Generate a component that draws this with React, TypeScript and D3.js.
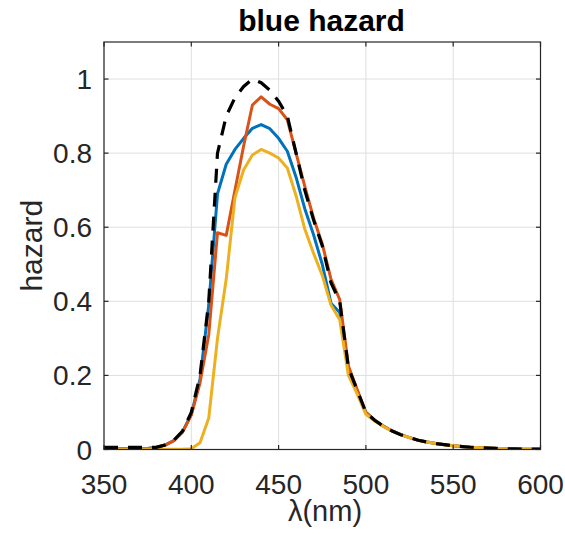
import React from "react";
import * as d3 from "d3";

const wavelengths: number[] = d3.range(350, 601, 5);

// Blue light hazard reference B(λ) (black dashed)
const reference: number[] = [
  0.006, 0.006, 0.006, 0.006, 0.006, 0.006, // 350-375
  0.006, 0.012, 0.025, 0.05, 0.1, 0.2, 0.4, 0.8, 0.9, 0.95, // 380-425
  0.98, 1.0, 0.99, 0.97, 0.94, 0.9, 0.8, 0.7, 0.62, 0.55, // 430-475
  0.45, 0.4, 0.22, 0.16, 0.1, 0.079, 0.063, 0.05, 0.04, 0.032, // 480-525
  0.025, 0.02, 0.016, 0.013, 0.01, 0.008, 0.006, 0.005, 0.004, 0.003, // 530-575
  0.002, 0.002, 0.001, 0.001, 0.001, // 580-600
];

const seriesBlue: number[] = [
  0.002, 0.002, 0.002, 0.002, 0.002, 0.003,
  0.006, 0.012, 0.024, 0.048, 0.095, 0.19, 0.39, 0.69, 0.77, 0.81,
  0.84, 0.867, 0.877, 0.866, 0.84, 0.805, 0.735, 0.65, 0.58, 0.5,
  0.395, 0.37, 0.22, 0.16, 0.1, 0.079, 0.063, 0.05, 0.04, 0.032,
  0.025, 0.02, 0.016, 0.013, 0.01, 0.008, 0.006, 0.005, 0.004, 0.003,
  0.002, 0.002, 0.001, 0.001, 0.001,
];

const seriesOrange: number[] = [
  0.002, 0.002, 0.002, 0.002, 0.002, 0.003,
  0.006, 0.012, 0.024, 0.047, 0.093, 0.18, 0.31, 0.585, 0.578, 0.7,
  0.82, 0.93, 0.952, 0.932, 0.92, 0.89, 0.8, 0.71, 0.625, 0.555,
  0.46, 0.405, 0.225, 0.162, 0.1, 0.079, 0.063, 0.05, 0.04, 0.032,
  0.025, 0.02, 0.016, 0.013, 0.01, 0.008, 0.006, 0.005, 0.004, 0.003,
  0.002, 0.002, 0.001, 0.001, 0.001,
];

const seriesYellow: number[] = [
  0.0005, 0.0005, 0.0005, 0.0005, 0.0005, 0.0005,
  0.0005, 0.0005, 0.0007, 0.001, 0.002, 0.018, 0.085, 0.3, 0.46, 0.68,
  0.755, 0.795, 0.81, 0.8, 0.787, 0.76, 0.685, 0.595, 0.53, 0.47,
  0.39, 0.35, 0.2, 0.15, 0.095, 0.077, 0.062, 0.05, 0.04, 0.032,
  0.025, 0.02, 0.016, 0.013, 0.01, 0.008, 0.006, 0.005, 0.004, 0.003,
  0.002, 0.002, 0.001, 0.001, 0.001,
];

const xTicks: number[] = [350, 400, 450, 500, 550, 600];
const yTicks: number[] = [0, 0.2, 0.4, 0.6, 0.8, 1];
const yTickLabels: string[] = ["0", "0.2", "0.4", "0.6", "0.8", "1"];

const titleText = "blue hazard";
const yLabelText = "hazard";
const xLabelText = "λ(nm)";

const W = 565;
const H = 540;
const left = 104;
const right = 540.5;
const top = 42;
const bottom = 449.5;

const FONT = "'Liberation Sans', Arial, Helvetica, sans-serif";
const AX = "#262626";

export default function App() {
  const x = d3.scaleLinear().domain([350, 600]).range([left, right]);
  const y = d3.scaleLinear().domain([0, 1.1]).range([bottom, top]);
  const line = (vals: number[]) =>
    d3
      .line<number>()
      .x((_, i) => x(wavelengths[i]))
      .y((v) => y(v))(vals) || "";

  const colored = [
    { vals: seriesBlue, color: "#0072BD" },
    { vals: seriesOrange, color: "#D95319" },
    { vals: seriesYellow, color: "#EDB120" },
  ];
  const tl = 4.5;

  return (
    <svg
      width={W}
      height={H}
      style={{ position: "absolute", left: 0, top: 0, background: "#fff" }}
      fontFamily={FONT}
    >
      <rect x={0} y={0} width={W} height={H} fill="#fff" />
      {/* grid */}
      {xTicks.map((t) => (
        <line key={"gx" + t} x1={x(t)} x2={x(t)} y1={top} y2={bottom} stroke="#dfdfdf" strokeWidth={1} />
      ))}
      {yTicks.map((t) => (
        <line key={"gy" + t} x1={left} x2={right} y1={y(t)} y2={y(t)} stroke="#dfdfdf" strokeWidth={1} />
      ))}
      <defs>
        <clipPath id="clip">
          <rect x={left} y={top} width={right - left} height={bottom - top} />
        </clipPath>
      </defs>
      <g clipPath="url(#clip)">
        {colored.map((s, i) => (
          <path
            key={i}
            d={line(s.vals)}
            fill="none"
            stroke={s.color}
            strokeWidth={3}
            strokeLinejoin="round"
          />
        ))}
        <path
          d={line(reference)}
          fill="none"
          stroke="#000"
          strokeWidth={3.2}
          strokeDasharray="14,10"
        />
      </g>
      {/* box */}
      <rect x={left} y={top} width={right - left} height={bottom - top} fill="none" stroke={AX} strokeWidth={1.2} />
      {xTicks.map((t) => (
        <g key={"tx" + t}>
          <line x1={x(t)} x2={x(t)} y1={bottom} y2={bottom - tl} stroke={AX} strokeWidth={1.2} />
          <line x1={x(t)} x2={x(t)} y1={top} y2={top + tl} stroke={AX} strokeWidth={1.2} />
          <text x={x(t)} y={494} textAnchor="middle" fontSize={28} fill={AX}>
            {t}
          </text>
        </g>
      ))}
      {yTicks.map((t, i) => (
        <g key={"ty" + t}>
          <line x1={left} x2={left + tl} y1={y(t)} y2={y(t)} stroke={AX} strokeWidth={1.2} />
          <line x1={right} x2={right - tl} y1={y(t)} y2={y(t)} stroke={AX} strokeWidth={1.2} />
          <text x={92} y={y(t)} dy="0.36em" textAnchor="end" fontSize={28} fill={AX}>
            {yTickLabels[i]}
          </text>
        </g>
      ))}
      <text x={321.5} y={31} textAnchor="middle" fontSize={30} fontWeight="bold" fill="#000">
        {titleText}
      </text>
      <text
        transform={`translate(42,${(top + bottom) / 2}) rotate(-90)`}
        textAnchor="middle"
        fontSize={30}
        fill={AX}
      >
        {yLabelText}
      </text>
      <text x={325} y={521} textAnchor="middle" fontSize={29} fill={AX}>
        {xLabelText}
      </text>
    </svg>
  );
}
